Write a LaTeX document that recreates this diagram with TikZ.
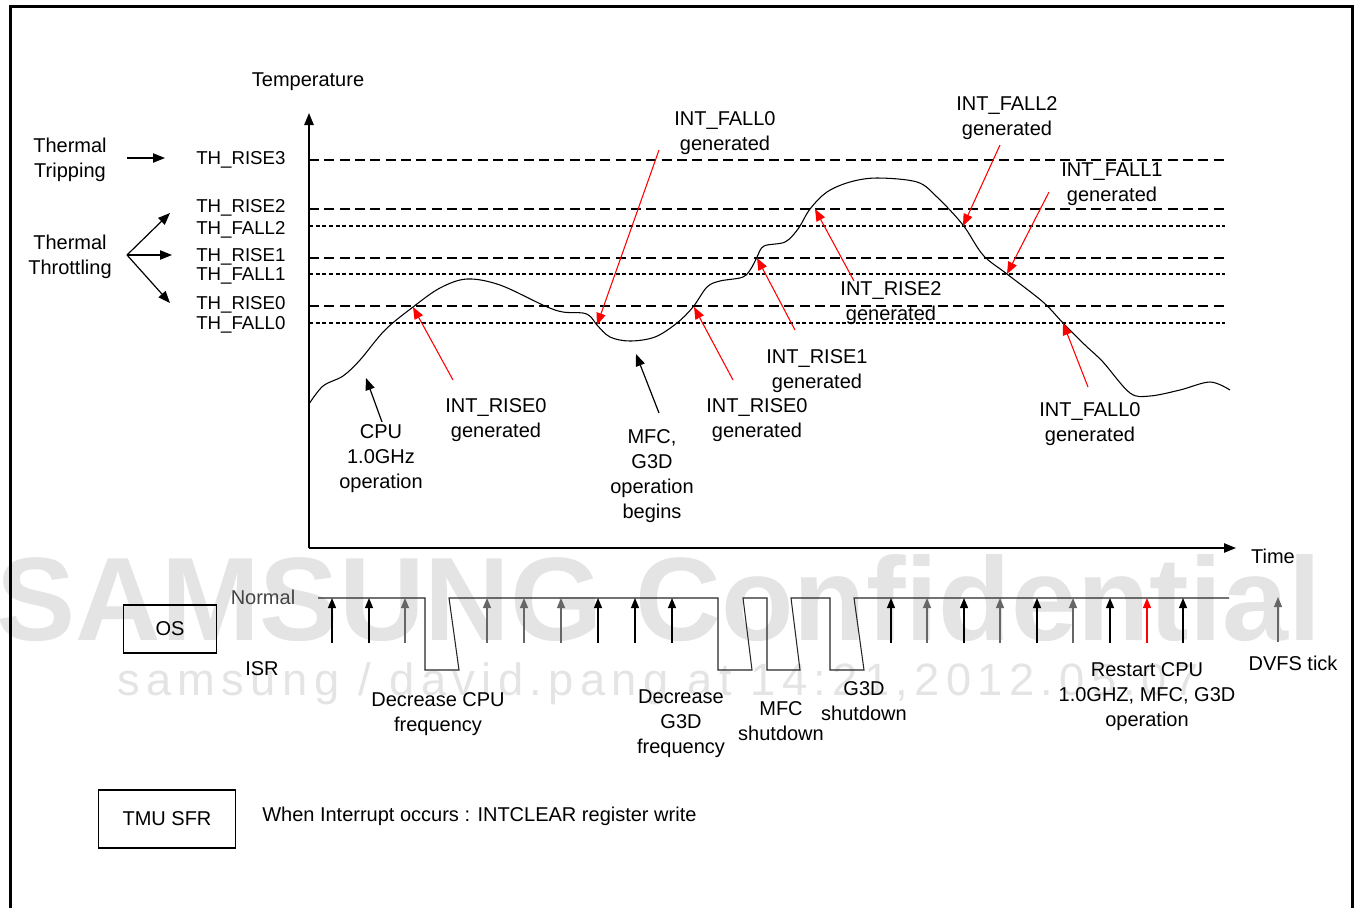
\documentclass[tikz,border=0pt]{standalone}
\usepackage{fontspec}
\setmainfont{Liberation Sans}
\newfontfamily\wmfont[LetterSpace=14]{Liberation Sans}
\usetikzlibrary{arrows.meta}
\definecolor{wmgray}{HTML}{E4E4E4}
\definecolor{tickgray}{HTML}{666666}
\definecolor{normgray}{HTML}{444444}
\tikzset{
  lbl/.style={font=\fontsize{15}{18.75}\selectfont, inner sep=0pt, align=center, text=black},
  thlab/.style={lbl, anchor=west, font=\fontsize{14}{16}\selectfont},
  longdash/.style={line width=0.8pt, dash pattern=on 7.5pt off 4pt},
  shortdash/.style={line width=0.8pt, dash pattern=on 3pt off 2pt},
  axis/.style={line width=1.1pt, -{Triangle[length=9pt,width=7pt]}},
  blk/.style={line width=0.9pt, -{Triangle[length=9pt,width=7pt]}},
  redarr/.style={red, line width=0.8pt, -{Triangle[length=9pt,width=7pt]}},
  tickarr/.style={line width=0.9pt, -{Triangle[length=7.5pt,width=6pt]}},
  boxnode/.style={lbl, draw, line width=0.8pt}
}
\begin{document}
\begin{tikzpicture}[x=0.75pt,y=-0.75pt]
\useasboundingbox (0,0) rectangle (1359,908);
% watermark
\node[inner sep=0pt, anchor=base west, text=wmgray, font=\fontsize{89}{89}\selectfont\bfseries] (wm1) at (-4,640) {SAMSUNG Confidential};
\node[inner sep=0pt, anchor=base west, text=wmgray, font=\wmfont\fontsize{34}{34}\selectfont] (wm2) at (117,695) {samsung / david.pang at 14:21,2012.05.07};
% frame
\draw[line width=2.25pt] (10,908) -- (10,6) -- (1352,6) -- (1352,908);
% axes
\coordinate (O) at (309,548);
\coordinate (ytop) at (309,113);
\coordinate (xend) at (1236,548);
\draw[axis] (O) -- (ytop);
\draw[axis] (O) -- (xend);
\node[lbl] (temp) at (308,82) {Temperature};
\node[lbl] (time) at (1273,556) {Time};
% thresholds
\node[thlab] (r3) at (196,160) {TH\_RISE3};
\node[thlab] (r2) at (196,208) {TH\_RISE2};
\node[thlab] (f2) at (196,230) {TH\_FALL2};
\node[thlab] (r1) at (196,257) {TH\_RISE1};
\node[thlab] (f1) at (196,276) {TH\_FALL1};
\node[thlab] (r0) at (196,305) {TH\_RISE0};
\node[thlab] (f0) at (196,325) {TH\_FALL0};
\foreach \n/\y in {r3/160, r2/209, r1/258, r0/306}{
  \coordinate (\n a) at (309,\y); \coordinate (\n b) at (1225,\y);
  \draw[longdash] (\n a) -- (\n b);
}
\foreach \n/\y in {f2/226, f1/274, f0/323}{
  \coordinate (\n a) at (309,\y); \coordinate (\n b) at (1225,\y);
  \draw[shortdash] (\n a) -- (\n b);
}
% thermal labels
\node[lbl] (trip) at (70,160) {Thermal\\Tripping};
\node[lbl] (throt) at (70,257) {Thermal\\Throttling};
\coordinate (tripS) at (127,158);
\coordinate (tripE) at (165,158);
\draw[blk] (tripS) -- (tripE);
\coordinate (thS) at (127,255);
\coordinate (thE1) at (170,213);
\coordinate (thE2) at (172,255);
\coordinate (thE3) at (170,303);
\draw[blk] (thS) -- (thE1);
\draw[blk] (thS) -- (thE2);
\draw[blk] (thS) -- (thE3);
% temperature curve
\draw[line width=0.8pt] plot[smooth, tension=0.55] coordinates {
 (309,404) (323,386) (343,376) (360,360) (385,330) (413,307) (440,288) (467,279)
 (500,285) (545,306) (563,312) (583,313) (591,317) (597,325) (610,337) (630,341)
 (655,337) (677,323) (693,307) (707,287) (720,281) (743,277) (752,267) (757,257)
 (764,246) (785,242) (798,229) (810,209) (827,192) (850,182) (877,178) (917,182)
 (937,197) (963,225) (983,255) (1007,274) (1043,302) (1063,323) (1085,345)
 (1103,362) (1130,393) (1150,396) (1180,390) (1210,382) (1230,390)};
% red annotations
\node[lbl] (irA) at (496,420) {INT\_RISE0\\generated};
\node[lbl] (ifA) at (725,133) {INT\_FALL0\\generated};
\node[lbl] (irB) at (757,420) {INT\_RISE0\\generated};
\node[lbl] (ir1) at (817,371) {INT\_RISE1\\generated};
\node[lbl] (ir2) at (891,303) {INT\_RISE2\\generated};
\node[lbl] (if2) at (1007,118) {INT\_FALL2\\generated};
\node[lbl] (if1) at (1112,184) {INT\_FALL1\\generated};
\node[lbl] (ifB) at (1090,424) {INT\_FALL0\\generated};
\coordinate (irAs) at (453,380); \coordinate (irAt) at (413,307);
\coordinate (ifAs) at (659,150); \coordinate (ifAt) at (597,325);
\coordinate (irBs) at (733,380); \coordinate (irBt) at (694,307);
\coordinate (ir1s) at (795,330); \coordinate (ir1t) at (757,258);
\coordinate (ir2s) at (854,281); \coordinate (ir2t) at (815,209);
\coordinate (if2s) at (1000,145); \coordinate (if2t) at (963,226);
\coordinate (if1s) at (1049,192); \coordinate (if1t) at (1007,274);
\coordinate (ifBs) at (1088,387); \coordinate (ifBt) at (1063,323);
\foreach \n in {irA,ifA,irB,ir1,ir2,if2,if1,ifB}{\draw[redarr] (\n s) -- (\n t);}
% black annotations
\node[lbl] (cpu) at (381,459) {CPU\\1.0GHz\\operation};
\node[lbl] (mfc) at (652,476) {MFC,\\G3D\\operation\\begins};
\coordinate (cpus) at (382,422); \coordinate (cput) at (366,378);
\coordinate (mfcs) at (659,413); \coordinate (mfct) at (636,354);
\draw[blk] (cpus) -- (cput);
\draw[blk] (mfcs) -- (mfct);
% OS section
\node[boxnode, minimum width=70pt, minimum height=36pt] (os) at (170,629) {OS};
\node[lbl, text=normgray] (normal) at (263,597) {Normal};
\node[lbl] (isr) at (262,669) {ISR};
\draw[line width=0.8pt, black!85] (318,598) -- (425,598) -- (425,670) -- (459,670) -- (449,598)
  -- (718,598) -- (718,670) -- (752,670) -- (743,598) -- (767,598) -- (767,670) -- (800,670)
  -- (791,598) -- (830,598) -- (830,670) -- (864,670) -- (854,598) -- (1229,598);
\foreach \x/\c in {332/black, 369/black, 405/tickgray, 487/tickgray, 524/tickgray, 561/tickgray,
  598/black, 635/black, 672/black, 891/black, 927/tickgray, 964/black, 1000/tickgray,
  1037/black, 1073/tickgray, 1110/black, 1147/red, 1183/black}{
  \draw[tickarr, draw=\c] (\x,643) -- (\x,598);
}
\coordinate (dvs) at (1278,642); \coordinate (dvt) at (1278,597);
\draw[tickarr, draw=tickgray] (dvs) -- (dvt);
\node[lbl] (dcpu) at (438,714) {Decrease CPU\\frequency};
\node[lbl] (dg3d) at (681,724) {Decrease\\G3D\\frequency};
\node[lbl] (mfcsd) at (781,721) {MFC\\shutdown};
\node[lbl] (g3dsd) at (864,701) {G3D\\shutdown};
\node[lbl] (restart) at (1147,697) {Restart CPU\\1.0GHZ, MFC, G3D\\operation};
\node[lbl] (dvfs) at (1293,663) {DVFS tick};
% TMU SFR
\node[boxnode, minimum width=103pt, minimum height=43.5pt] (tmu) at (167,819) {TMU SFR};
\node[lbl, anchor=west] (intc) at (262,816) {When Interrupt occurs : INTCLEAR register write};
\end{tikzpicture}
\end{document}
